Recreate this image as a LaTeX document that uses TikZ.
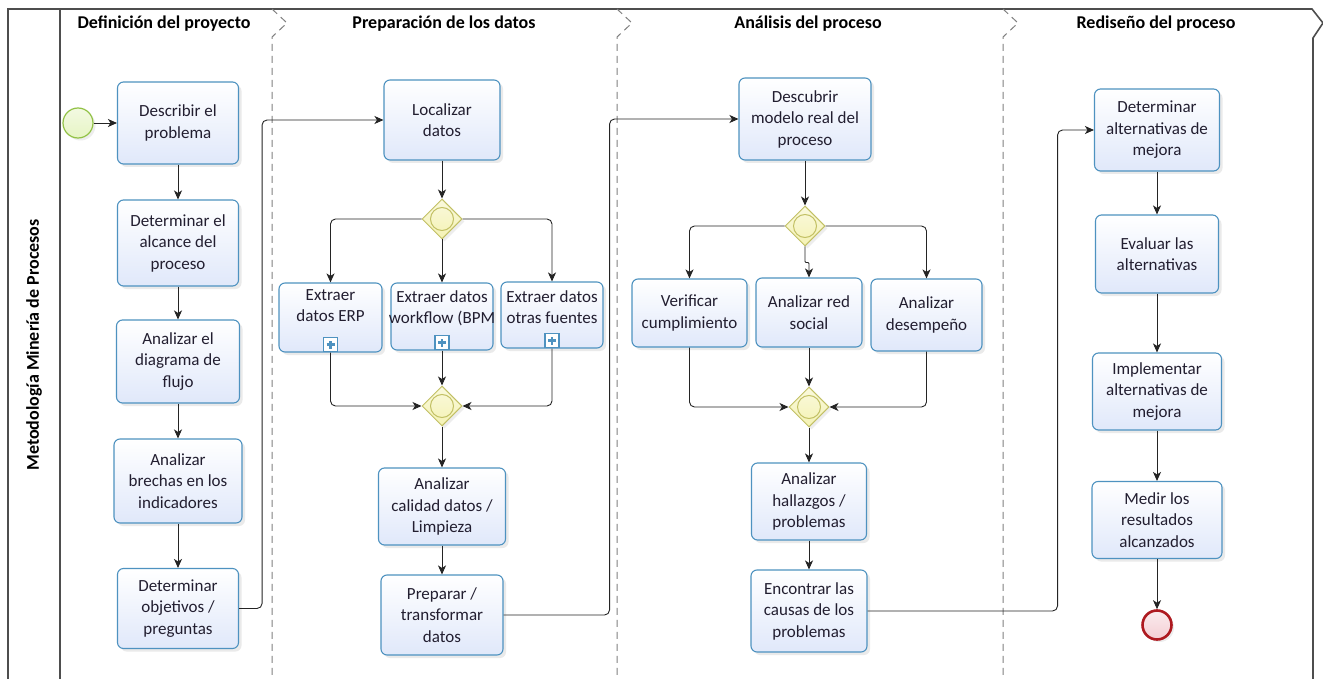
\documentclass[tikz,border=0pt]{standalone}
\usepackage{fontspec}
\setmainfont{Carlito}
\usetikzlibrary{shapes.geometric,arrows.meta,shadows,calc}

\definecolor{taskborder}{RGB}{78,146,192}
\definecolor{taskfill}{RGB}{224,232,250}
\definecolor{gwborder}{RGB}{194,192,100}
\definecolor{gwfill}{RGB}{244,242,180}
\definecolor{startborder}{RGB}{146,194,70}
\definecolor{startfill}{RGB}{230,244,196}
\definecolor{endborder}{RGB}{174,26,32}
\definecolor{endfill}{RGB}{244,206,212}
\definecolor{txt}{RGB}{34,30,48}
\definecolor{poolline}{RGB}{78,78,78}
\definecolor{laneline}{RGB}{128,128,128}
\definecolor{flowline}{RGB}{36,36,36}

\tikzset{
  task/.style={draw=taskborder, line width=1.1pt, rounded corners=6pt,
    top color=white, bottom color=taskfill, text=txt, align=center,
    font=\fontsize{17}{21.5}\selectfont, inner sep=2pt,
    drop shadow={shadow xshift=3pt, shadow yshift=-3pt, opacity=0.16}},
  tsize/.style 2 args={minimum width=#1pt, minimum height=#2pt},
  tasktext/.style={text=txt, align=center, font=\fontsize{17}{21}\selectfont, inner sep=0pt},
  submk/.style={draw=taskborder, line width=1.2pt, fill=white, minimum size=14pt, inner sep=0pt,
    path picture={\draw[taskborder, line width=2.4pt]
      ([xshift=-4pt]path picture bounding box.center) -- ([xshift=4pt]path picture bounding box.center)
      ([yshift=-4pt]path picture bounding box.center) -- ([yshift=4pt]path picture bounding box.center);}},
  gw/.style={diamond, aspect=1, draw=gwborder, line width=1pt, inner sep=0pt,
    minimum width=40pt, minimum height=40pt, top color=gwfill!45, bottom color=gwfill,
    drop shadow={shadow xshift=2.5pt, shadow yshift=-2.5pt, opacity=0.14}},
  gwring/.style={circle, draw=gwborder, line width=1pt, minimum size=23pt, inner sep=0pt},
  startev/.style={circle, draw=startborder, line width=1.2pt, minimum size=30pt, inner sep=0pt,
    top color=startfill!50, bottom color=startfill,
    drop shadow={shadow xshift=2.5pt, shadow yshift=-2.5pt, opacity=0.14}},
  endev/.style={circle, draw=endborder, line width=2.6pt, minimum size=29pt, inner sep=0pt,
    top color=endfill!40, bottom color=endfill,
    drop shadow={shadow xshift=2.5pt, shadow yshift=-2.5pt, opacity=0.14}},
  flow/.style={draw=flowline, line width=0.9pt, rounded corners=5pt,
    -{Stealth[length=9pt, width=8pt, inset=2.5pt]}},
  pool/.style={draw=poolline, line width=1.6pt},
  lane/.style={draw=laneline, line width=1pt, dash pattern=on 7pt off 5pt},
  phase/.style={font=\bfseries\fontsize{18}{20}\selectfont, text=black, inner sep=0pt},
}

\begin{document}
\begin{tikzpicture}[x=1pt, y=-1pt]
  \useasboundingbox (0,0) rectangle (1323,679);
  \fill[white] (0,0) rectangle (1323,679);
  \clip (0,0) rectangle (1323,679);

  % pool frame and label column
  \draw[pool] (8,700) -- (8,9) -- (1312,9) -- (1323,23) -- (1313,38) -- (1313,700);
  \draw[pool] (60,9) -- (60,700);
  \node[phase, rotate=90] (pooltitle) at (34,345) {Metodología Minería de Procesos};

  % phase separators
  \draw[lane] (272,9) -- (287,23) -- (272,37) -- (272,700);
  \draw[lane] (617,9) -- (632,23) -- (617,37) -- (617,700);
  \draw[lane] (1003,9) -- (1018,23) -- (1003,37) -- (1003,700);

  % phase titles
  \node[phase] (ph1) at (164,24) {Definición del proyecto};
  \node[phase] (ph2) at (444,24) {Preparación de los datos};
  \node[phase] (ph3) at (808,24) {Análisis del proceso};
  \node[phase] (ph4) at (1156,24) {Rediseño del proceso};

  % --- Definición del proyecto
  \node[startev] (start) at (78,123) {};
  \node[task, tsize={121}{82}] (t1) at (178,123) {Describir el\\problema};
  \node[task, tsize={121}{86}] (t2) at (178,243) {Determinar el\\alcance del\\proceso};
  \node[task, tsize={123}{83}] (t3) at (178,361.5) {Analizar el\\diagrama de\\flujo};
  \node[task, tsize={128}{84}] (t4) at (178,481) {Analizar\\brechas en los\\indicadores};
  \node[task, tsize={121}{80}] (t5) at (178,608.5) {Determinar\\objetivos /\\preguntas};

  % --- Preparación de los datos
  \node[task, tsize={116}{80}] (loc) at (442,120) {Localizar\\datos};
  \node[gw] (g1) at (442,219) {};
  \node[gwring] (g1c) at (g1) {};
  \node[task, tsize={103}{69}] (erp) at (330.5,317.5) {};
  \node[tasktext] (erp-t) at ([yshift=12pt]erp.center) {Extraer\\datos ERP};
  \node[submk] (erp-m) at ([yshift=8pt]erp.south) {};
  \node[task, tsize={102}{67}] (bpm) at (442,316.5) {};
  \node[tasktext] (bpm-t) at ([yshift=8.5pt]bpm.center) {Extraer datos\\workflow (BPM};
  \node[submk] (bpm-m) at ([yshift=8pt]bpm.south) {};
  \node[task, tsize={102}{66}] (otr) at (552,315) {};
  \node[tasktext] (otr-t) at ([yshift=8pt]otr.center) {Extraer datos\\otras fuentes};
  \node[submk] (otr-m) at ([yshift=8pt]otr.south) {};
  \node[gw] (g2) at (442,406) {};
  \node[gwring] (g2c) at (g2) {};
  \node[task, tsize={127}{77}] (cal) at (442,506.5) {Analizar\\calidad datos /\\Limpieza};
  \node[task, tsize={122}{80}] (prep) at (442,615) {Preparar /\\transformar\\datos};

  % --- Análisis del proceso
  \node[task, tsize={132}{82}] (desc) at (805,119) {Descubrir\\modelo real del\\proceso};
  \node[gw] (g3) at (805,226) {};
  \node[gwring] (g3c) at (g3) {};
  \node[task, tsize={115}{68}] (ver) at (689.5,313) {Verificar\\cumplimiento};
  \node[task, tsize={106}{69}] (red) at (809,312.5) {Analizar red\\social};
  \node[task, tsize={111}{72}] (des) at (926.5,315) {Analizar\\desempeño};
  \node[gw] (g4) at (809,407) {};
  \node[gwring] (g4c) at (g4) {};
  \node[task, tsize={115}{77}] (hal) at (809,501.5) {Analizar\\hallazgos /\\problemas};
  \node[task, tsize={116}{82}] (enc) at (809,611) {Encontrar las\\causas de los\\problemas};

  % --- Rediseño del proceso
  \node[task, tsize={125}{82}] (alt) at (1157,130) {Determinar\\alternativas de\\mejora};
  \node[task, tsize={123}{78}] (eva) at (1157,254) {Evaluar las\\alternativas};
  \node[task, tsize={129}{77}] (imp) at (1157,391.5) {Implementar\\alternativas de\\mejora};
  \node[task, tsize={130}{77}] (med) at (1157,520) {Medir los\\resultados\\alcanzados};
  \node[endev] (end) at (1157,625) {};

  % sequence flows, first phase
  \draw[flow] (start) -- (t1);
  \draw[flow] (t1) -- (t2);
  \draw[flow] (t2) -- (t3);
  \draw[flow] (t3) -- (t4);
  \draw[flow] (t4) -- (t5);
  \draw[flow] (t5.east) -- ++(23,0) |- (loc.west);

  % second phase
  \draw[flow] (loc) -- (g1);
  \draw[flow] (g1.west) -| (erp.north);
  \draw[flow] (g1.south) -- (bpm.north);
  \draw[flow] (g1.east) -| (otr.north);
  \draw[flow] (erp.south) |- (g2.west);
  \draw[flow] (bpm.south) -- (g2.north);
  \draw[flow] (otr.south) |- (g2.east);
  \draw[flow] (g2) -- (cal);
  \draw[flow] (cal) -- (prep);
  \draw[flow] (prep.east) -- ++(106,0) |- (desc.west);

  % third phase
  \draw[flow] (desc) -- (g3);
  \draw[flow] (g3.west) -| (ver.north);
  \draw[flow, rounded corners=1pt] (g3.south) -- ++(0,16) -| (red.north);
  \draw[flow] (g3.east) -| (des.north);
  \draw[flow] (ver.south) |- (g4.west);
  \draw[flow] (red.south) -- (g4.north);
  \draw[flow] (des.south) |- (g4.east);
  \draw[flow] (g4) -- (hal);
  \draw[flow] (hal) -- (enc);
  \draw[flow] (enc.east) -- ++(190,0) |- (alt.west);

  % fourth phase
  \draw[flow] (alt) -- (eva);
  \draw[flow] (eva) -- (imp);
  \draw[flow] (imp) -- (med);
  \draw[flow] (med) -- (end);
\end{tikzpicture}
\end{document}
